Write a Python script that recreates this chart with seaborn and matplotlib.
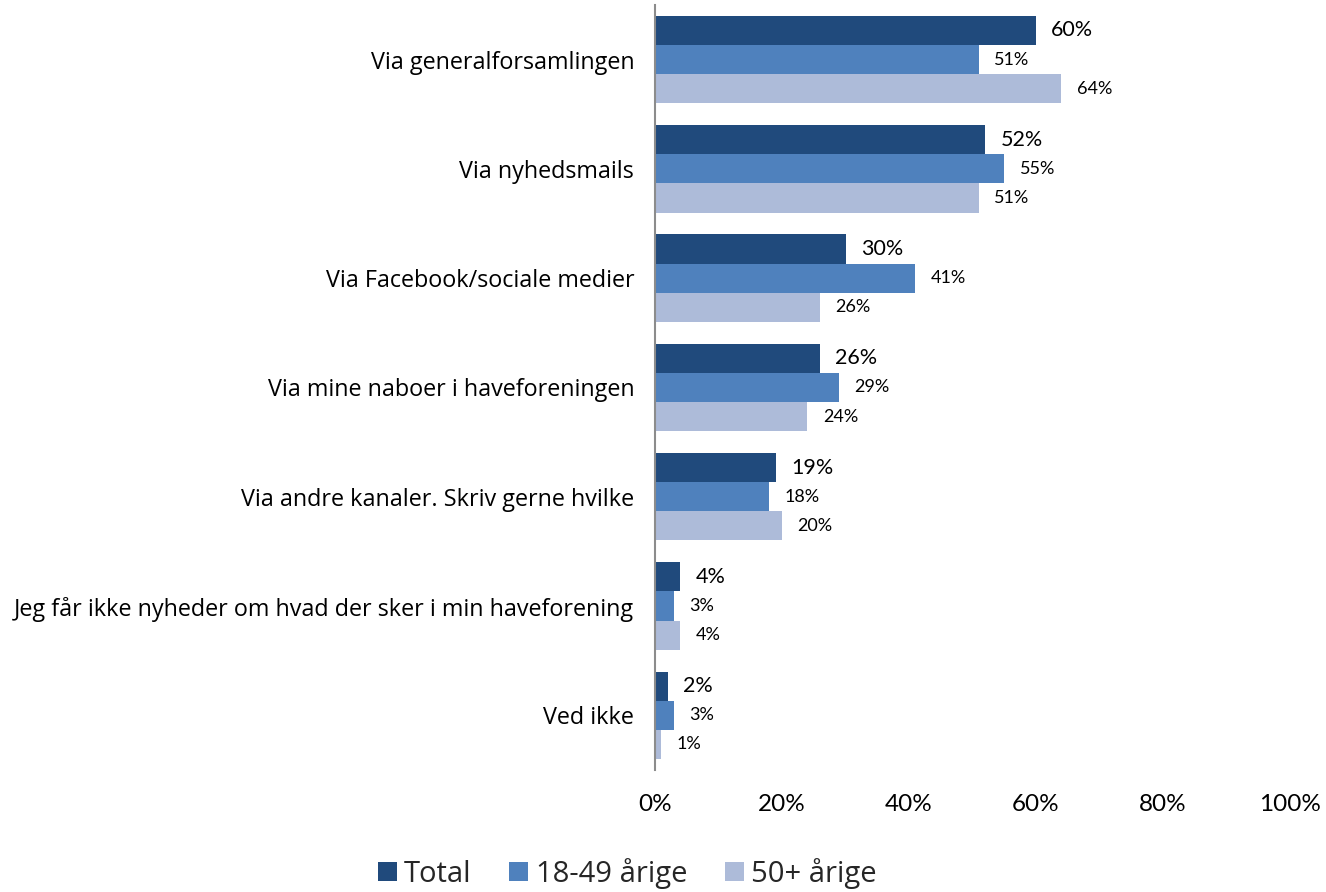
import pandas as pd
import numpy as np
import matplotlib.pyplot as plt
import seaborn as sns

categories = [
    "Via generalforsamlingen",
    "Via nyhedsmails",
    "Via Facebook/sociale medier",
    "Via mine naboer i haveforeningen",
    "Via andre kanaler. Skriv gerne hvilke",
    "Jeg får ikke nyheder om hvad der sker i min haveforening",
    "Ved ikke",
]
groups = ["Total", "18-49 årige", "50+ årige"]
total = [60, 52, 30, 26, 19, 4, 2]
young = [51, 55, 41, 29, 18, 3, 3]
old = [64, 51, 26, 24, 20, 4, 1]
x_ticks = [0, 20, 40, 60, 80, 100]

colors = ["#204A7C", "#4F81BD", "#ADBBD9"]

df = pd.DataFrame({
    "kategori": categories * 3,
    "gruppe": np.repeat(groups, len(categories)),
    "andel": total + young + old,
})

sns.set_theme(style="white")
plt.rcParams['font.family'] = ['Open Sans', 'DejaVu Sans']
num_font = ['Lato', 'DejaVu Sans']

fig = plt.figure(figsize=(13.26, 8.92), dpi=100)
ax = fig.add_axes([0.494, 0.1368, 0.4789, 0.8576])

sns.barplot(data=df, y="kategori", x="andel", hue="gruppe", order=categories,
            hue_order=groups, palette=colors, width=0.8, saturation=1,
            orient="h", ax=ax, legend=True, linewidth=0, edgecolor='none')

# value labels
label_sizes = [15.5, 13, 13]
for cont, fs in zip(ax.containers, label_sizes):
    ax.bar_label(cont, labels=[f"{v:.0f}%" for v in cont.datavalues],
                 padding=11, fontsize=fs, color='#000000', family=num_font)

ax.set_xlim(0, 100)
ax.set_ylim(6.5, -0.5)
ax.set_xticks(x_ticks)
ax.set_xticklabels([f"{t}%" for t in x_ticks], fontsize=17.5, family=num_font)
ax.tick_params(axis='x', length=0, pad=17, colors='#000000')
ax.tick_params(axis='y', length=0, pad=15, labelsize=16.8, colors='#000000')
ax.set_xlabel("")
ax.set_ylabel("")
for s in ['top', 'right', 'bottom']:
    ax.spines[s].set_visible(False)
ax.spines['left'].set_color('#8C8C8C')
ax.spines['left'].set_linewidth(1.5)
ax.grid(False)

handles, labels = ax.get_legend_handles_labels()
ax.get_legend().remove()
fig.legend(handles, labels, loc='center', bbox_to_anchor=(0.473, 0.021),
           ncol=3, frameon=False, fontsize=21, handlelength=0.65,
           handleheight=0.65, handletextpad=0.25, columnspacing=1.3)

fig.savefig("out.png", dpi=100, facecolor='white')
plt.close(fig)
